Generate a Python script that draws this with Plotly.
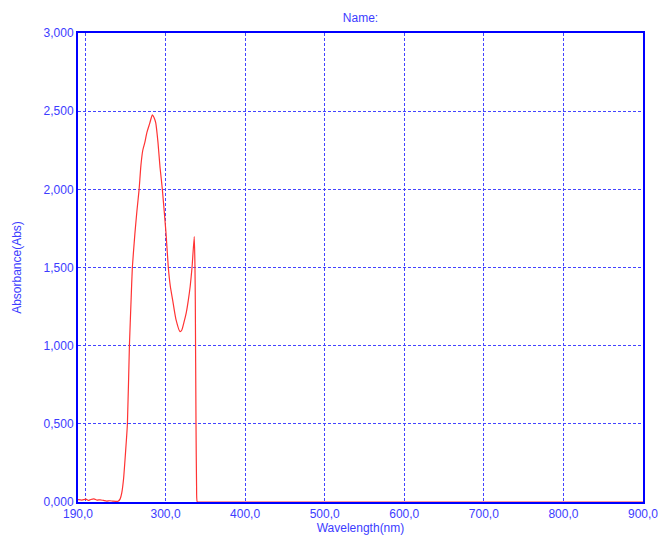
import plotly.graph_objects as go

# Wavelength (nm) and absorbance
wavelength = [190, 195, 200, 203, 206, 210, 214, 218, 222, 226, 230, 234, 238, 240.4,
              243, 245, 247.3, 249.5, 252.1, 254.6, 256.7, 258.3, 261.4, 264, 266.8,
              269, 271.4, 274, 276.4, 280, 283.4, 285.5, 287.7, 290.5, 293.1, 296.0,
              300.6, 303.5, 306, 309.0, 313, 318.2, 320.5, 323.2, 326, 328.6, 331,
              333.3, 336.1, 337.0, 337.4, 338.3, 339.0, 339.9, 345, 400, 500, 600,
              700, 800, 900]
absorbance = [0.015, 0.012, 0.018, 0.010, 0.016, 0.020, 0.012, 0.014, 0.010, 0.006,
              0.008, 0.005, 0.004, 0.005, 0.02, 0.058, 0.15, 0.30, 0.5, 1.0, 1.29,
              1.5, 1.71, 1.86, 2.0, 2.15, 2.25, 2.30, 2.36, 2.42, 2.476, 2.46, 2.425,
              2.30, 2.14, 2.0, 1.72, 1.5, 1.38, 1.29, 1.17, 1.09, 1.10, 1.15, 1.21,
              1.29, 1.38, 1.5, 1.697, 1.5, 1.29, 0.5, 0.1, 0.0, 0.0, 0.0, 0.0, 0.0,
              0.0, 0.0, 0.0]

x_ticks = [190, 300, 400, 500, 600, 700, 800, 900]
x_grid = [200, 300, 400, 500, 600, 700, 800]
y_ticks = [0, 0.5, 1.0, 1.5, 2.0, 2.5, 3.0]

BLUE = "#0000ff"
GRID_BLUE = "#4444ff"
TEXT_BLUE = "#3c3cff"
FONT = "Liberation Sans, Arial, sans-serif"

W, H = 660, 539

fig = go.Figure()
fig.add_trace(go.Scatter(
    x=wavelength, y=absorbance, mode="lines",
    line=dict(color="#ff3333", width=1.2, shape="spline", smoothing=0.5),
    showlegend=False, hoverinfo="x+y",
))

fig.update_layout(
    width=W, height=H,
    margin=dict(l=78, r=17, t=33, b=37, autoexpand=False),
    paper_bgcolor="white", plot_bgcolor="white",
    separators=",.",
    font=dict(family=FONT, size=12, color=TEXT_BLUE),
    title=dict(text="Name:", x=0.5, xanchor="center",
               xref="paper", yref="container", y=1 - 18 / H, yanchor="middle",
               font=dict(family=FONT, size=12, color=TEXT_BLUE)),
    xaxis=dict(
        range=[190, 900], tickvals=x_ticks, tickformat=".1f",
        showgrid=False, zeroline=False, ticks="", automargin=False,
        showline=True, mirror=True, linecolor=BLUE, linewidth=2,
        tickfont=dict(family=FONT, size=12, color=TEXT_BLUE),
        title=dict(text="Wavelength(nm)", standoff=1,
                   font=dict(family=FONT, size=12, color=TEXT_BLUE)),
        minor=dict(tickvals=x_grid, showgrid=True, gridcolor=GRID_BLUE, gridwidth=1,
                   griddash="3px,2px", ticks=""),
    ),
    yaxis=dict(
        range=[0, 3], tickvals=y_ticks, tickformat=".3f",
        showgrid=True, gridcolor=GRID_BLUE, gridwidth=1, griddash="3px,2px",
        zeroline=False, ticks="", automargin=False,
        showline=True, mirror=True, linecolor=BLUE, linewidth=2,
        tickfont=dict(family=FONT, size=12, color=TEXT_BLUE),
        title=dict(text="Absorbance(Abs)", standoff=19,
                   font=dict(family=FONT, size=12, color=TEXT_BLUE)),
    ),
)

fig.write_html(
    "out.html",
    config={"displayModeBar": False},
    post_script="document.body.style.margin='0';document.body.style.overflow='hidden';",
)
